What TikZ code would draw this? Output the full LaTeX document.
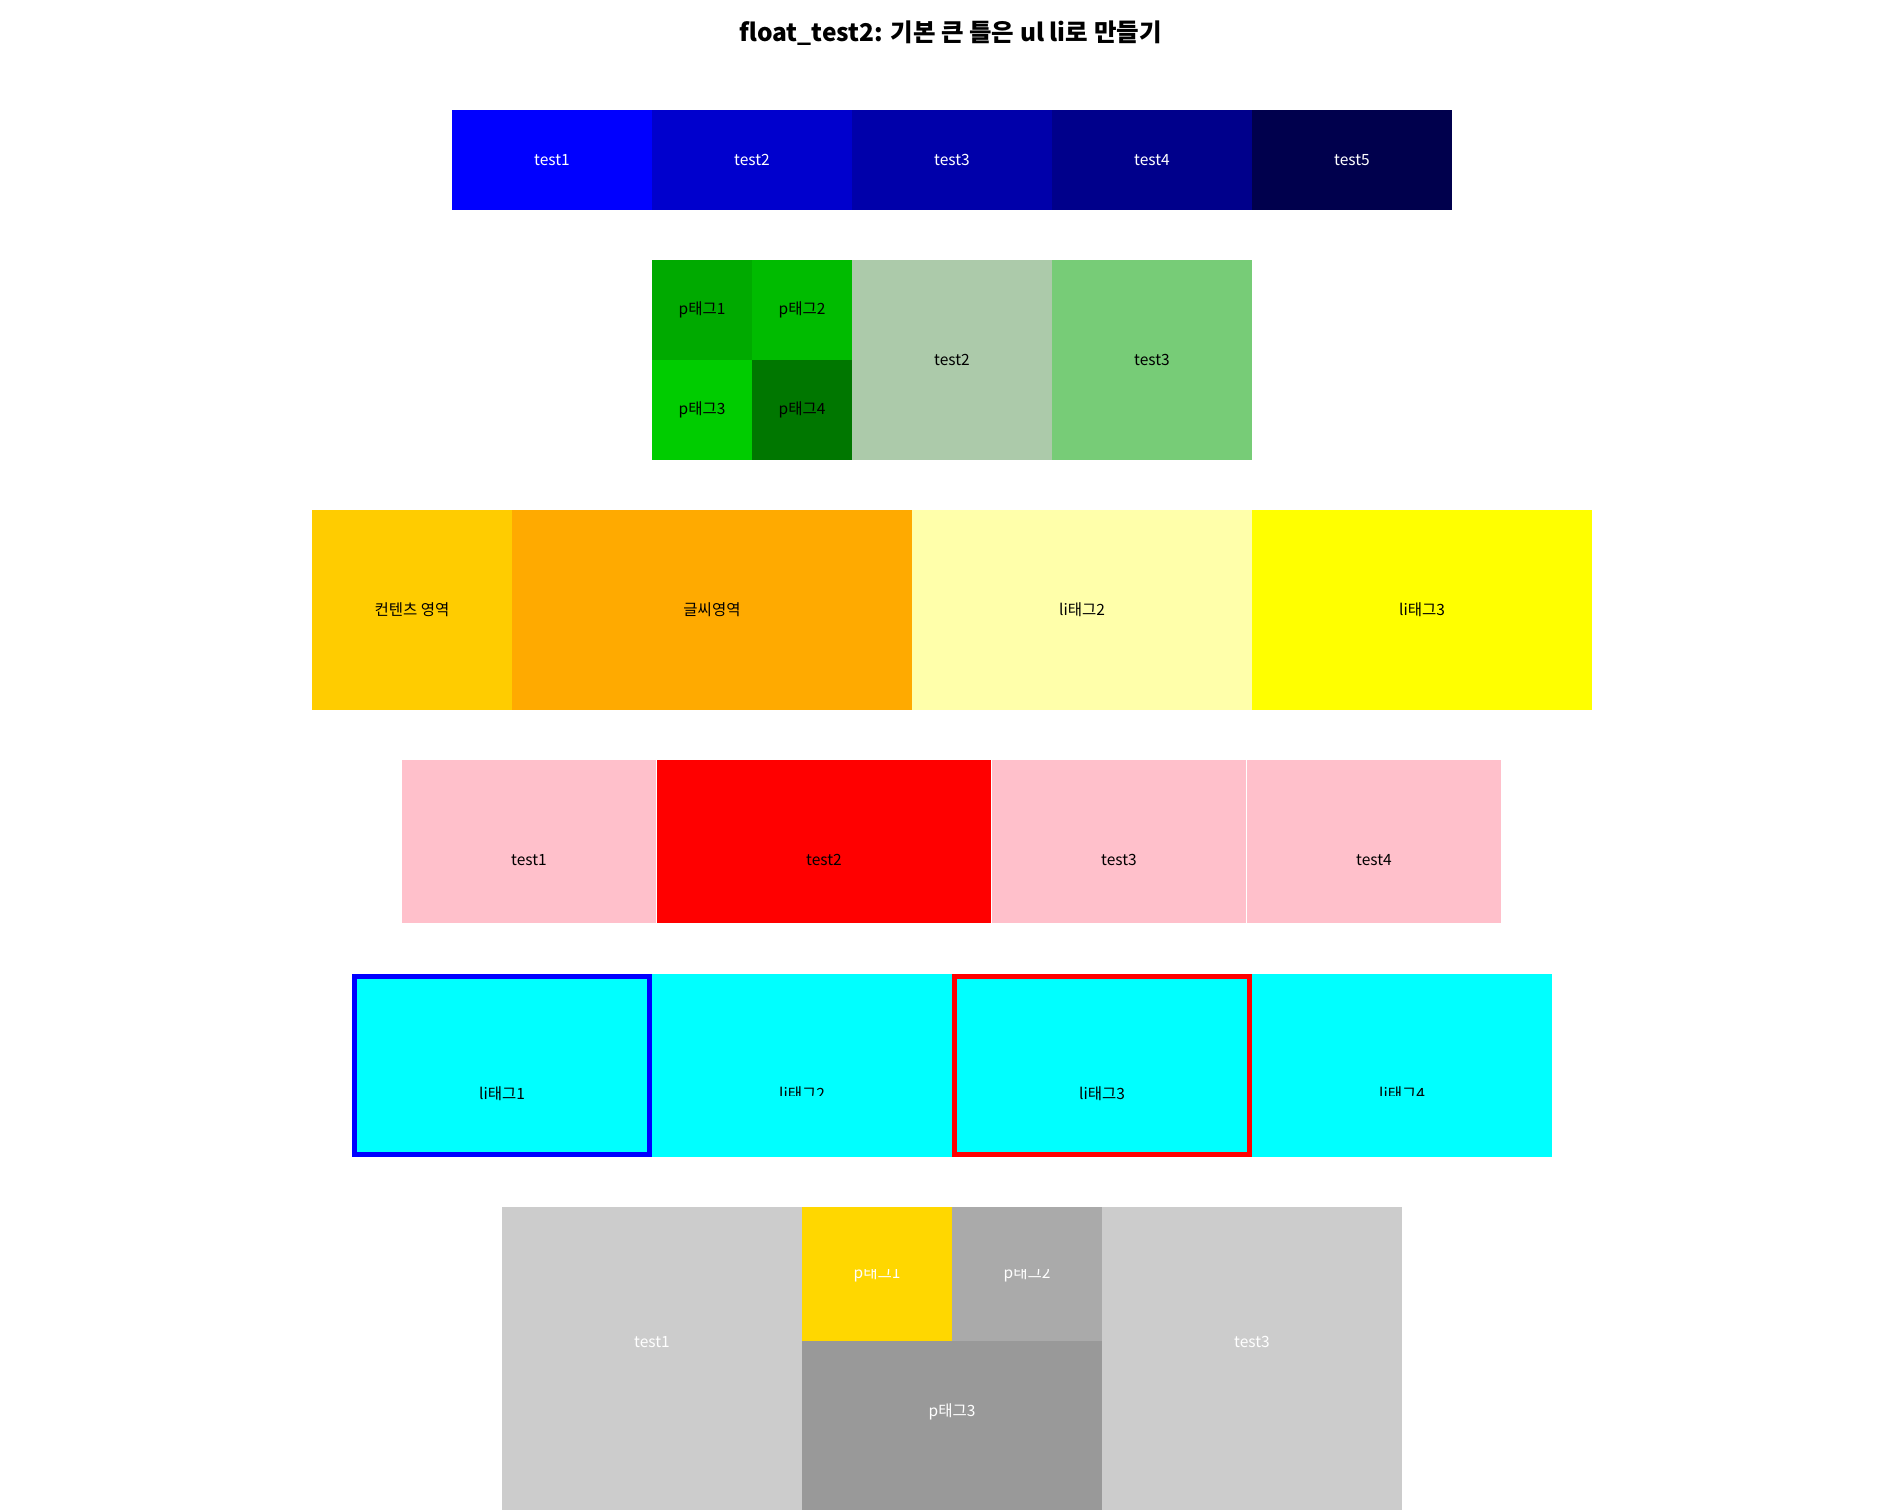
\documentclass[tikz,border=0pt]{standalone}
\usepackage{fontspec}
\setmainfont{Noto Sans CJK KR}
\usepackage{xcolor}
\usetikzlibrary{positioning}
\definecolor{blueA}{HTML}{0000FF}
\definecolor{blueB}{HTML}{0000CD}
\definecolor{blueC}{HTML}{0000AA}
\definecolor{blueD}{HTML}{00008B}
\definecolor{blueE}{HTML}{00004D}
\definecolor{greenA}{HTML}{00AA00}
\definecolor{greenB}{HTML}{00BB00}
\definecolor{greenC}{HTML}{00CC00}
\definecolor{greenD}{HTML}{007700}
\definecolor{sage}{HTML}{ACCAAA}
\definecolor{leaf}{HTML}{77CC77}
\definecolor{amber}{HTML}{FFCC00}
\definecolor{orangeA}{HTML}{FFAA00}
\definecolor{paleyellow}{HTML}{FFFFAA}
\definecolor{lemon}{HTML}{FFFF00}
\definecolor{pinkA}{HTML}{FFC0CB}
\definecolor{redA}{HTML}{FF0000}
\definecolor{aqua}{HTML}{00FFFF}
\definecolor{frameblue}{HTML}{0000FF}
\definecolor{goldA}{HTML}{FFD700}
\definecolor{greyA}{HTML}{CCCCCC}
\definecolor{greyB}{HTML}{AAAAAA}
\definecolor{greyC}{HTML}{999999}

\begin{document}
\begin{tikzpicture}[
    x=1pt, y=-1pt,
    cell/.style={inner sep=0pt, outer sep=0pt, anchor=north west,
                 font=\fontsize{15.5}{18}\selectfont},
    lbl/.style={inner sep=0pt, font=\fontsize{15.5}{18}\selectfont},
    ttl/.style={inner sep=0pt, font=\bfseries\fontsize{24.5}{28}\selectfont}
  ]
    \useasboundingbox[fill=white] (0,0) rectangle (1903,1510);
    \node[ttl] (title) at (950.5,33) {float\_test2: 기본 큰 틀은 ul li로 만들기};

    % row 1
    \foreach \i/\c in {1/blueA, 2/blueB, 3/blueC, 4/blueD, 5/blueE}
      \node[cell, fill=\c, text=white, minimum width=200pt, minimum height=100pt]
        (bar\i) at ({452+200*(\i-1)},110) {test\i};

    % row 2
    \node[cell, fill=greenA, minimum width=100pt, minimum height=100pt] (pa) at (652,260) {p태그1};
    \node[cell, fill=greenB, minimum width=100pt, minimum height=100pt] (pb) at (752,260) {p태그2};
    \node[cell, fill=greenC, minimum width=100pt, minimum height=100pt] (pc) at (652,360) {p태그3};
    \node[cell, fill=greenD, minimum width=100pt, minimum height=100pt] (pd) at (752,360) {p태그4};
    \node[cell, fill=sage, minimum width=200pt, minimum height=200pt] (gtwo) at (852,260) {test2};
    \node[cell, fill=leaf, minimum width=200pt, minimum height=200pt, right=0pt of gtwo] (gthree) {test3};

    % row 3
    \node[cell, fill=amber, minimum width=200pt, minimum height=200pt] (content) at (312,510) {컨텐츠 영역};
    \node[cell, fill=orangeA, minimum width=400pt, minimum height=200pt, right=0pt of content] (words) {글씨영역};
    \node[cell, fill=paleyellow, minimum width=340pt, minimum height=200pt, right=0pt of words] (litwo) {li태그2};
    \node[cell, fill=lemon, minimum width=340pt, minimum height=200pt, right=0pt of litwo] (lithree) {li태그3};

    % row 4
    \node[cell, fill=pinkA, minimum width=254pt, minimum height=163pt] (pk1) at (402,760) {};
    \node[cell, fill=redA, minimum width=334pt, minimum height=163pt] (pk2) at (657,760) {};
    \node[cell, fill=pinkA, minimum width=254pt, minimum height=163pt] (pk3) at (992,760) {};
    \node[cell, fill=pinkA, minimum width=254pt, minimum height=163pt] (pk4) at (1247,760) {};
    \node[lbl] (pk1t) at (529,860) {test1};
    \node[lbl] (pk2t) at (824,860) {test2};
    \node[lbl] (pk3t) at (1119,860) {test3};
    \node[lbl] (pk4t) at (1374,860) {test4};

    % row 5
    \node[fill=aqua, draw=frameblue, line width=5pt, inner sep=0pt,
          minimum width=295pt, minimum height=178pt] (cy1) at (502,1065.5) {};
    \node[fill=aqua, inner sep=0pt, minimum width=300pt, minimum height=183pt] (cy2) at (802,1065.5) {};
    \node[fill=aqua, draw=redA, line width=5pt, inner sep=0pt,
          minimum width=295pt, minimum height=178pt] (cy3) at (1102,1065.5) {};
    \node[fill=aqua, inner sep=0pt, minimum width=300pt, minimum height=183pt] (cy4) at (1402,1065.5) {};
    \node[lbl] (cy1t) at (502,1094) {li태그1};
    \node[lbl] (cy3t) at (1102,1094) {li태그3};
    \begin{scope}
      \clip (652,974) rectangle (952,1095);
      \node[lbl] (cy2t) at (802,1094) {li태그2};
    \end{scope}
    \begin{scope}
      \clip (1252,974) rectangle (1552,1095);
      \node[lbl] (cy4t) at (1402,1094) {li태그4};
    \end{scope}

    % row 6
    \node[cell, fill=greyA, minimum width=300pt, minimum height=303pt] (gy1) at (502,1207) {};
    \node[cell, fill=goldA, minimum width=150pt, minimum height=134pt] (gya) at (802,1207) {};
    \node[cell, fill=greyB, minimum width=150pt, minimum height=134pt] (gyb) at (952,1207) {};
    \node[cell, fill=greyC, minimum width=300pt, minimum height=169pt] (gyc) at (802,1341) {};
    \node[cell, fill=greyA, minimum width=300pt, minimum height=303pt] (gy3) at (1102,1207) {};
    \node[lbl, text=white] (gy1t) at (652,1342) {test1};
    \node[lbl, text=white] (gy3t) at (1252,1342) {test3};
    \node[lbl, text=white] (gyct) at (952,1412) {p태그3};
    \begin{scope}
      \clip (802,1269) rectangle (1102,1341);
      \node[lbl, text=white] (gyat) at (877,1274) {p태그1};
      \node[lbl, text=white] (gybt) at (1027,1274) {p태그2};
    \end{scope}
  \end{tikzpicture}
\end{document}
